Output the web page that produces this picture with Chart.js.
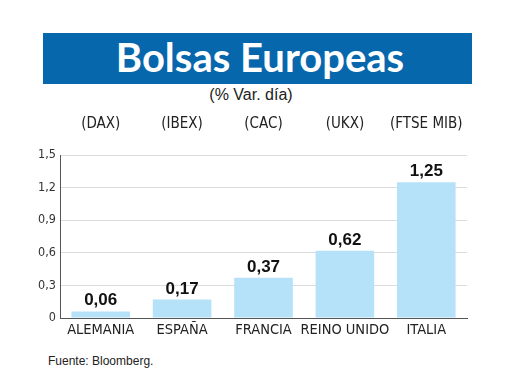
<!DOCTYPE html>
<html>
<head>
<meta charset="utf-8">
<script src="https://cdn.jsdelivr.net/npm/chart.js@4"></script>
<style>
  body { margin: 0; background: #fff; width: 520px; height: 390px; position: relative; overflow: hidden; }
  #title { position: absolute; left: 43px; top: 33px; width: 429px; height: 51px; background: #0767ad;
    color: #fff; font-family: Lato, "Open Sans", sans-serif; font-weight: bold; font-size: 40px;
    line-height: 49px; text-align: center; box-sizing: border-box; padding-left: 5px; }
  #sub { position: absolute; left: 0; top: 86px; width: 502px; text-align: center;
    font-family: "Liberation Sans", Arial, sans-serif; font-size: 16px; line-height: 18px; color: #222; }
  #src { position: absolute; left: 48px; top: 354px; font-family: "Liberation Sans", Arial, sans-serif;
    font-size: 12px; line-height: 14px; color: #222; }
  #chart { position: absolute; left: 0; top: 100px; }
</style>
</head>
<body>
<div id="title">Bolsas Europeas</div>
<div id="sub">(% Var. día)</div>
<canvas id="chart" width="520" height="250"></canvas>
<div id="src">Fuente: Bloomberg.</div>
<script>
const countries = ['ALEMANIA', 'ESPAÑA', 'FRANCIA', 'REINO UNIDO', 'ITALIA'];
const indices = ['(DAX)', '(IBEX)', '(CAC)', '(UKX)', '(FTSE MIB)'];
const changes = [0.06, 0.17, 0.37, 0.62, 1.25];

const narrow = '"Liberation Sans Narrow", "DejaVu Sans Condensed", "Liberation Sans", sans-serif';

const fmt = v => v === 0 ? '0' : v.toFixed(2).replace('.', ',');

// value labels above each bar
const valueLabels = {
    id: 'valueLabels',
    afterDatasetsDraw(chart) {
        const ctx = chart.ctx;
        const meta = chart.getDatasetMeta(0);
        ctx.save();
        ctx.font = 'bold 17px "Liberation Sans", Arial, sans-serif';
        ctx.fillStyle = '#111';
        ctx.textAlign = 'center';
        ctx.textBaseline = 'alphabetic';
        meta.data.forEach((bar, i) => {
            ctx.fillText(fmt(changes[i]), bar.x, bar.y - 6);
        });
        ctx.restore();
    }
};

new Chart(document.getElementById('chart'), {
    type: 'bar',
    data: {
        labels: countries,
        datasets: [{
            data: changes,
            backgroundColor: '#b5e2f8',
            borderWidth: 0,
            categoryPercentage: 1,
            barPercentage: 0.72
        }]
    },
    options: {
        responsive: false,
        animation: false,
        devicePixelRatio: 1,
        layout: { padding: { left: 0, right: 53, top: 0, bottom: 0 } },
        plugins: { legend: { display: false }, tooltip: { enabled: false } },
        scales: {
            x: {
                position: 'bottom',
                grid: { display: false, drawTicks: false },
                border: { display: true, color: '#555', width: 1 },
                ticks: { padding: 4, color: '#222', font: { family: narrow, size: 14.5 }, maxRotation: 0, autoSkip: false },
                afterFit(s) { s.height = 32; }
            },
            x2: {
                type: 'category',
                axis: 'x',
                position: 'top',
                labels: indices,
                offset: true,
                grid: { display: false, drawTicks: false },
                border: { display: false },
                ticks: { padding: 22, color: '#222', font: { family: narrow, size: 15 }, maxRotation: 0, autoSkip: false },
                afterFit(s) { s.height = 55; }
            },
            y: {
                min: 0,
                max: 1.5,
                grid: {
                    drawTicks: false,
                    color: c => c.tick && c.tick.value === 0 ? '#555' : '#dcdcdc'
                },
                border: { display: true, color: '#555', width: 1 },
                ticks: {
                    stepSize: 0.3,
                    padding: 4,
                    color: '#333',
                    font: { family: narrow, size: 12.5 },
                    callback: v => v === 0 ? '0' : v.toFixed(1).replace('.', ',')
                },
                afterFit(s) { s.width = 60; }
            }
        }
    },
    plugins: [valueLabels]
});
</script>
</body>
</html>
